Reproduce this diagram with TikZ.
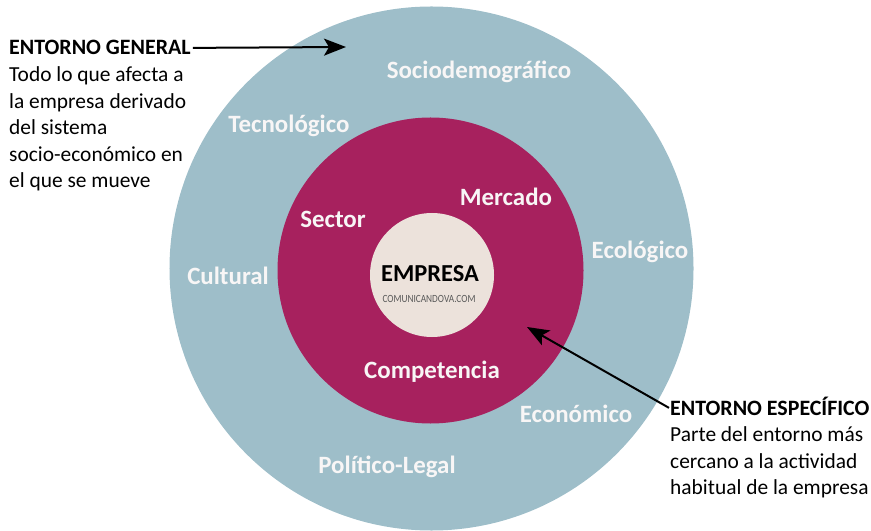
\documentclass[tikz,border=0pt]{standalone}
\usepackage{fontspec}
\setmainfont{Carlito}
\usetikzlibrary{arrows.meta}
\definecolor{outerblue}{RGB}{158,190,201}
\definecolor{innermag}{RGB}{167,33,94}
\definecolor{corebeige}{RGB}{236,226,219}
\definecolor{lblwhite}{RGB}{248,246,246}
\definecolor{urlgray}{RGB}{90,90,90}
\tikzset{
  ring/.style={circle, inner sep=0pt, outer sep=0pt, draw=none},
  lbl/.style={text=lblwhite, font=\bfseries\fontsize{25}{30}\selectfont, inner sep=0pt, anchor=base},
  ttl/.style={text=black, font=\bfseries\fontsize{22}{26.5}\selectfont, inner sep=0pt, anchor=base west},
  body/.style={text=black, font=\fontsize{21.5}{26.5}\selectfont, inner sep=0pt, anchor=base west, align=left},
  pointer/.style={line width=2bp, -{Stealth[length=22bp,width=17bp,inset=5bp]}}
}
\begin{document}
\begin{tikzpicture}[x=1bp,y=-1bp]
\useasboundingbox (0,0) rectangle (871,531);
\node[ring, fill=outerblue, minimum size=524bp] (outer) at (431.5,268.5) {};
\node[ring, fill=innermag, minimum size=306bp] (inner) at (430.5,270.5) {};
\node[ring, fill=corebeige, minimum size=124bp] (core) at (432,275) {};

\node[lbl] (socio) at (479,79) {Sociodemográfico};
\node[lbl] (tecno) at (289,133) {Tecnológico};
\node[lbl] (ecolo) at (640,259) {Ecológico};
\node[lbl] (cultu) at (228,285) {Cultural};
\node[lbl] (econo) at (576,422) {Económico};
\node[lbl] (polit) at (387,473) {Político-Legal};
\node[lbl] (secto) at (333,228) {Sector};
\node[lbl] (merca) at (506,206) {Mercado};
\node[lbl] (compe) at (432,378) {Competencia};

\node[text=black, font=\bfseries\fontsize{24.5}{28}\selectfont, inner sep=0pt, anchor=base] (empresa) at (430,282) {EMPRESA};
\node[text=urlgray, font=\fontsize{11}{13}\selectfont, inner sep=0pt, anchor=base] (url) at (429,303) {\scalebox{0.85}[1]{COMUNICANDOVA.COM}};

\node[ttl] (gentitle) at (9,55) {ENTORNO GENERAL};
\node[body] (genbody) at (9,187.5) {Todo lo que afecta a\\la empresa derivado\\del sistema\\socio-económico en\\el que se mueve};

\node[ttl] (esptitle) at (670,415) {ENTORNO ESPECÍFICO};
\node[body] (espbody) at (670,494.5) {Parte del entorno más\\cercano a la actividad\\habitual de la empresa};

\coordinate (genend) at (346,47);
\coordinate (espend) at (527,327);
\draw[pointer] ([xshift=2bp]gentitle.east) -- (genend);
\draw[pointer] ([xshift=-1bp,yshift=-2bp]esptitle.west) -- (espend);
\end{tikzpicture}
\end{document}
